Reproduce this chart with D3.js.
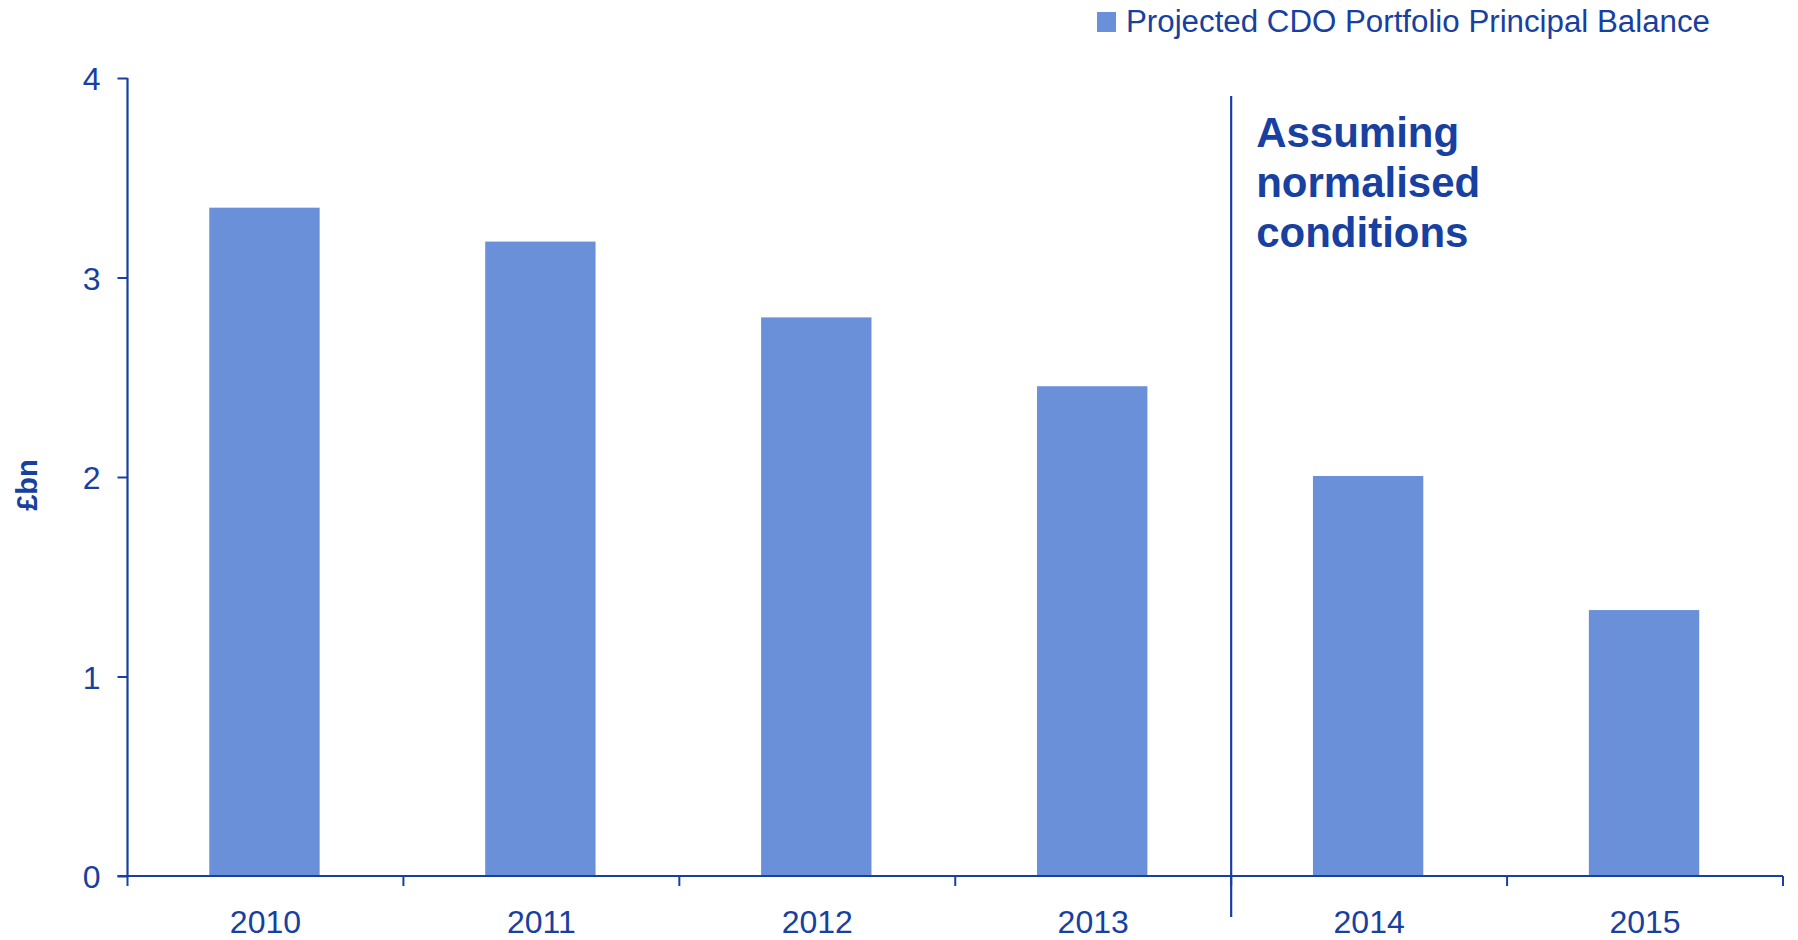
<!DOCTYPE html>
<html>
<head>
<meta charset="utf-8">
<script src="https://cdn.jsdelivr.net/npm/d3@7"></script>
<style>
  html, body { margin: 0; padding: 0; background: #ffffff; }
  svg { display: block; }
  text { font-family: "Liberation Sans", Arial, sans-serif; }
</style>
</head>
<body>
<svg id="chart" width="1798" height="940"></svg>
<script>
const categories = ["2010", "2011", "2012", "2013", "2014", "2015"];
const values = [3.35, 3.18, 2.80, 2.455, 2.005, 1.333];
const yTicks = [0, 1, 2, 3, 4];
const seriesName = "Projected CDO Portfolio Principal Balance";
const yLabel = "£bn";
const annotationLines = ["Assuming", "normalised", "conditions"];
const splitAfter = "2013";

const textColor = "#1740A0";
const barColor = "#6A90DA";

const svg = d3.select("#chart");

const x = d3.scaleBand()
  .domain(categories)
  .range([127.5, 1783])
  .paddingInner(0.6)
  .paddingOuter(0.3);

const y = d3.scaleLinear()
  .domain([0, 4])
  .range([876, 78]);

const step = x.step();
const half = step * x.paddingInner() / 2;

// bars
svg.append("g")
  .selectAll("rect")
  .data(categories)
  .join("rect")
  .attr("x", d => x(d) - 1)
  .attr("y", (d, i) => y(values[i]))
  .attr("width", x.bandwidth())
  .attr("height", (d, i) => y(0) - y(values[i]))
  .attr("fill", barColor);

// y axis
const yAxis = svg.append("g")
  .attr("transform", `translate(${x.range()[0]},0)`)
  .call(d3.axisLeft(y).tickValues(yTicks).tickFormat(d3.format("d")).tickSize(10).tickPadding(17));
yAxis.select(".domain").attr("stroke", textColor).attr("stroke-width", 2.2)
  .attr("d", `M0,${y(4)}V${y(0)}`);
yAxis.selectAll(".tick line").attr("stroke", textColor).attr("stroke-width", 2);
yAxis.selectAll(".tick text")
  .attr("fill", textColor)
  .style("font-size", "32px")
  .attr("dy", "0.36em");

// x axis labels
const xAxis = svg.append("g")
  .attr("transform", `translate(0,${y(0)})`)
  .call(d3.axisBottom(x).tickSize(0).tickPadding(34));
xAxis.select(".domain").remove();
xAxis.selectAll(".tick text")
  .attr("fill", textColor)
  .style("font-size", "32px")
  .attr("dy", "0.71em");

// x axis line and boundary ticks
const boundaries = categories.map(c => x(c) - half).concat([x(categories[categories.length - 1]) + x.bandwidth() + half]);
svg.append("line")
  .attr("x1", x.range()[0] - 10).attr("x2", x.range()[1])
  .attr("y1", y(0)).attr("y2", y(0))
  .attr("stroke", textColor).attr("stroke-width", 2.2);
svg.append("g").selectAll("line")
  .data(boundaries)
  .join("line")
  .attr("x1", d => d).attr("x2", d => d)
  .attr("y1", y(0)).attr("y2", y(0) + 10)
  .attr("stroke", textColor).attr("stroke-width", 2);

// y label
svg.append("text")
  .attr("transform", `translate(37,${(y(0) + y(4)) / 2 + 8}) rotate(-90)`)
  .attr("text-anchor", "middle")
  .attr("fill", textColor)
  .style("font-size", "29px")
  .style("font-weight", "bold")
  .text(yLabel);

// separator line
const sepX = x(splitAfter) + x.bandwidth() + half;
svg.append("line")
  .attr("x1", sepX).attr("x2", sepX)
  .attr("y1", y(3.91)).attr("y2", y(0) + 41)
  .attr("stroke", textColor).attr("stroke-width", 2.2);

// annotation
const ann = svg.append("text")
  .attr("fill", textColor)
  .style("font-size", "42px")
  .style("font-weight", "bold");
ann.selectAll("tspan")
  .data(annotationLines)
  .join("tspan")
  .attr("x", sepX + 25)
  .attr("y", (d, i) => 147 + i * 50)
  .text(d => d);

// legend
const legend = svg.append("g");
legend.append("rect")
  .attr("x", 1097).attr("y", 12)
  .attr("width", 19).attr("height", 20)
  .attr("fill", barColor);
legend.append("text")
  .attr("x", 1126).attr("y", 32)
  .attr("fill", textColor)
  .style("font-size", "31px")
  .attr("textLength", 584)
  .attr("lengthAdjust", "spacingAndGlyphs")
  .text(seriesName);
</script>
</body>
</html>
